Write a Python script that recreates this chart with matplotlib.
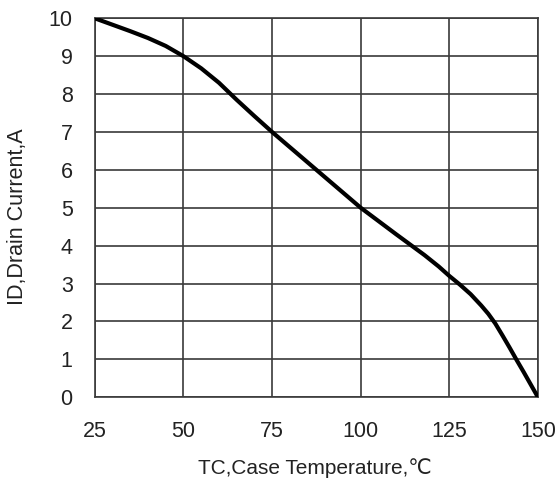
import matplotlib
matplotlib.use("Agg")
import matplotlib.pyplot as plt

plt.rcParams['font.family'] = ['Liberation Sans', 'DejaVu Sans']

# case temperature (C) vs drain current (A)
temp = [25, 30, 35, 40, 45, 50, 55, 60, 65, 70, 75, 87.5, 100, 110, 118, 122, 125,
        128, 131, 134, 136, 138, 140, 142, 144, 146, 148, 150]
current = [10, 9.83, 9.66, 9.48, 9.27, 9.0, 8.68, 8.3, 7.85, 7.42, 7.0, 6.0, 5.0, 4.3, 3.75, 3.45, 3.2,
           2.97, 2.72, 2.42, 2.2, 1.94, 1.63, 1.31, 0.98, 0.66, 0.33, 0.0]

x_ticks = [25, 50, 75, 100, 125, 150]
y_ticks = list(range(0, 11))

fig = plt.figure(figsize=(5.58, 4.82), dpi=100)
ax = fig.add_axes([0.170, 0.176, 0.794, 0.786])

ax.plot(temp, current, color='black', linewidth=3.0, solid_capstyle='round',
        solid_joinstyle='round', zorder=3)

ax.set_xlim(25, 150)
ax.set_ylim(0, 10)
ax.set_xticks(x_ticks)
ax.set_yticks(y_ticks)
ax.grid(True, color='#3a3a3a', linewidth=1.2)
for s in ax.spines.values():
    s.set_color('#3a3a3a')
    s.set_linewidth(1.2)
ax.tick_params(length=0, labelsize=15.5, colors='#222222')
ax.tick_params(axis='x', pad=17)
ax.tick_params(axis='y', pad=16)

fig.text(0.565, 1 - 468 / 482, 'TC,Case Temperature,\u2103', fontsize=15,
         color='#222222', ha='center', va='center')
fig.text(0.032, 0.55, 'ID,Drain Current,A', fontsize=15.5, color='#222222',
         ha='center', va='center', rotation=90)

fig.savefig('out.png', dpi=100, facecolor='white')
